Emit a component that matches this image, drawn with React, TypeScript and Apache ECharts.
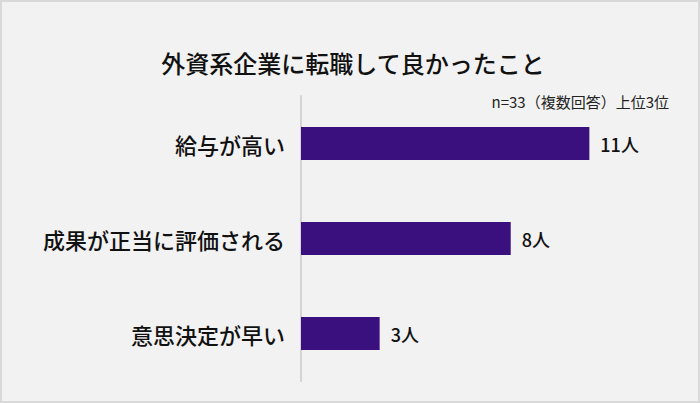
import React, { useRef, useEffect } from 'react'
import * as echarts from 'echarts'

// 回答カテゴリと人数
const categories = ['給与が高い', '成果が正当に評価される', '意思決定が早い']
const counts = [11, 8, 3]
const titleText = '外資系企業に転職して良かったこと'
const noteText = 'n=33（複数回答）上位3位'

const FONT = '"Noto Sans CJK JP", "Noto Sans", sans-serif'

const App: React.FC = () => {
  const chartRef = useRef<HTMLDivElement>(null)

  useEffect(() => {
    if (!chartRef.current) return
    const chart = echarts.init(chartRef.current, undefined, { renderer: 'svg' })

    const option = {
      animation: false,
      backgroundColor: '#ffffff',
      textStyle: { fontFamily: FONT },
      graphic: [
        {
          type: 'rect',
          z: -10,
          shape: { x: 1, y: 1, width: 698, height: 401 },
          style: { fill: '#f2f2f2', stroke: '#d9d9d9', lineWidth: 2 },
        },
        {
          type: 'text',
          x: 353,
          y: 62,
          style: {
            text: titleText,
            fontSize: 24,
            fontWeight: 500,
            fontFamily: FONT,
            fill: '#111111',
            textAlign: 'center',
            textVerticalAlign: 'middle',
          },
        },
        {
          type: 'text',
          x: 669,
          y: 101,
          style: {
            text: noteText,
            fontSize: 15,
            fontFamily: FONT,
            fill: '#222222',
            textAlign: 'right',
            textVerticalAlign: 'middle',
          },
        },
      ],
      grid: { left: 301, right: 32, top: 96, bottom: 22 },
      xAxis: {
        type: 'value',
        min: 0,
        max: 14,
        show: false,
      },
      yAxis: {
        type: 'category',
        inverse: true,
        data: categories,
        axisLine: { show: true, lineStyle: { color: '#d3d3d3', width: 2 } },
        axisTick: { show: false },
        axisLabel: {
          fontSize: 22,
          fontWeight: 500,
          color: '#111111',
          margin: 16,
          fontFamily: FONT,
        },
      },
      series: [
        {
          type: 'bar',
          data: counts,
          barWidth: 33,
          itemStyle: { color: '#3a0f7e' },
          label: {
            show: true,
            position: 'right',
            distance: 11,
            formatter: '{c}人',
            fontSize: 18,
            fontWeight: 500,
            color: '#111111',
            fontFamily: FONT,
          },
        },
      ],
    }

    chart.setOption(option)

    return () => {
      chart.dispose()
    }
  }, [])

  return (
    <div
      ref={chartRef}
      style={{ position: 'absolute', left: 0, top: 0, width: '700px', height: '403px' }}
    />
  )
}

export default App
